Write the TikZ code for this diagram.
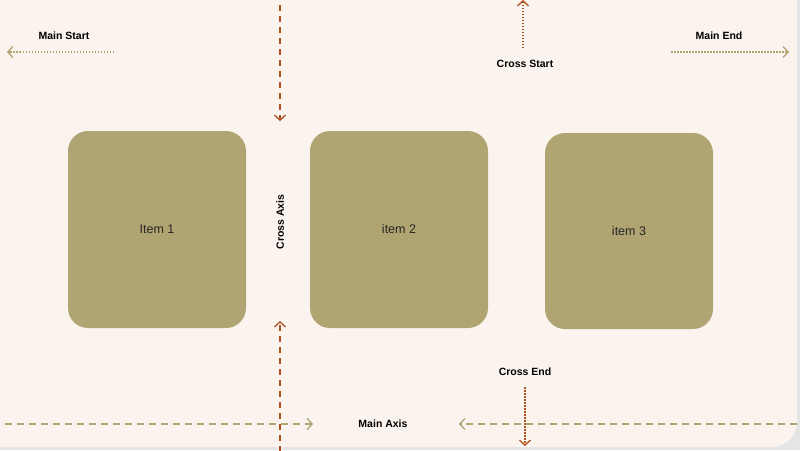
\documentclass[tikz,border=0pt]{standalone}
\usepackage{fontspec}
\setmainfont{Liberation Sans}
\usetikzlibrary{arrows.meta}
\definecolor{bg}{HTML}{FAF3EE}
\definecolor{item}{HTML}{B0A572}
\definecolor{brn}{HTML}{B0521E}
\definecolor{olv}{HTML}{B0A572}
\tikzset{
 itembox/.style={fill=item,rounded corners=20pt,draw=none},
 itemlabel/.style={font=\fontsize{12.5}{14}\selectfont,text=black!85},
 lbl/.style={font=\bfseries\fontsize{10.5}{12}\selectfont},
 tip/.style={-{Straight Barb[length=5pt,width=11pt,line width=1.3pt]}},
 crossdash/.style={tip,draw=brn,line width=1.5pt,dash pattern=on 6pt off 5pt},
 crossdot/.style={tip,draw=brn,line width=1.5pt,dash pattern=on 1.5pt off 1.5pt},
 maindash/.style={tip,draw=olv,line width=1.8pt,dash pattern=on 7pt off 5pt},
 maindot/.style={tip,draw=olv,line width=1.8pt,dash pattern=on 1.5pt off 1.5pt},
}
\begin{document}
\begin{tikzpicture}[x=1pt,y=-1pt]
\useasboundingbox (0,0) rectangle (800,450);
\fill[black!10] (-30,-30) rectangle (800,450);
\fill[bg,rounded corners=25pt] (-30,-30) rectangle (797,447);
\node[itembox,minimum width=178pt,minimum height=197pt] (i1) at (157,229.5) {};
\node[itemlabel] at (i1) {Item 1};
\node[itembox,minimum width=178pt,minimum height=197pt] (i2) at (399,229.5) {};
\node[itemlabel] at (i2) {item 2};
\node[itembox,minimum width=168pt,minimum height=196pt] (i3) at (629,231) {};
\node[itemlabel] at (i3) {item 3};
\node[lbl,rotate=90] (ca) at (280,222) {Cross Axis};
\coordinate (ct0) at (280,5); \coordinate (ct1) at (280,121);
\draw[crossdash] (ct0) -- (ct1);
\coordinate (cb0) at (280,452); \coordinate (cb1) at (280,321);
\draw[crossdash] (cb0) -- (cb1);
\node[lbl] (cs) at (525,64) {Cross Start};
\coordinate (cs0) at (523,48); \coordinate (cs1) at (523,0);
\draw[crossdot] (cs0) -- (cs1);
\node[lbl] (ce) at (525,372) {Cross End};
\coordinate (ce0) at (525,387); \coordinate (ce1) at (525,446);
\draw[crossdot] (ce0) -- (ce1);
\node[lbl] (ms) at (64,36) {Main Start};
\coordinate (ms0) at (114,52); \coordinate (ms1) at (7,52);
\draw[maindot] (ms0) -- (ms1);
\node[lbl] (me) at (719,36) {Main End};
\coordinate (me0) at (671,52); \coordinate (me1) at (789,52);
\draw[maindot] (me0) -- (me1);
\node[lbl] (ma) at (383,424) {Main Axis};
\coordinate (ma0) at (5,424); \coordinate (ma1) at (313,424);
\draw[maindash] (ma0) -- (ma1);
\coordinate (mb0) at (797,424); \coordinate (mb1) at (459,424);
\draw[maindash] (mb0) -- (mb1);
\end{tikzpicture}
\end{document}
